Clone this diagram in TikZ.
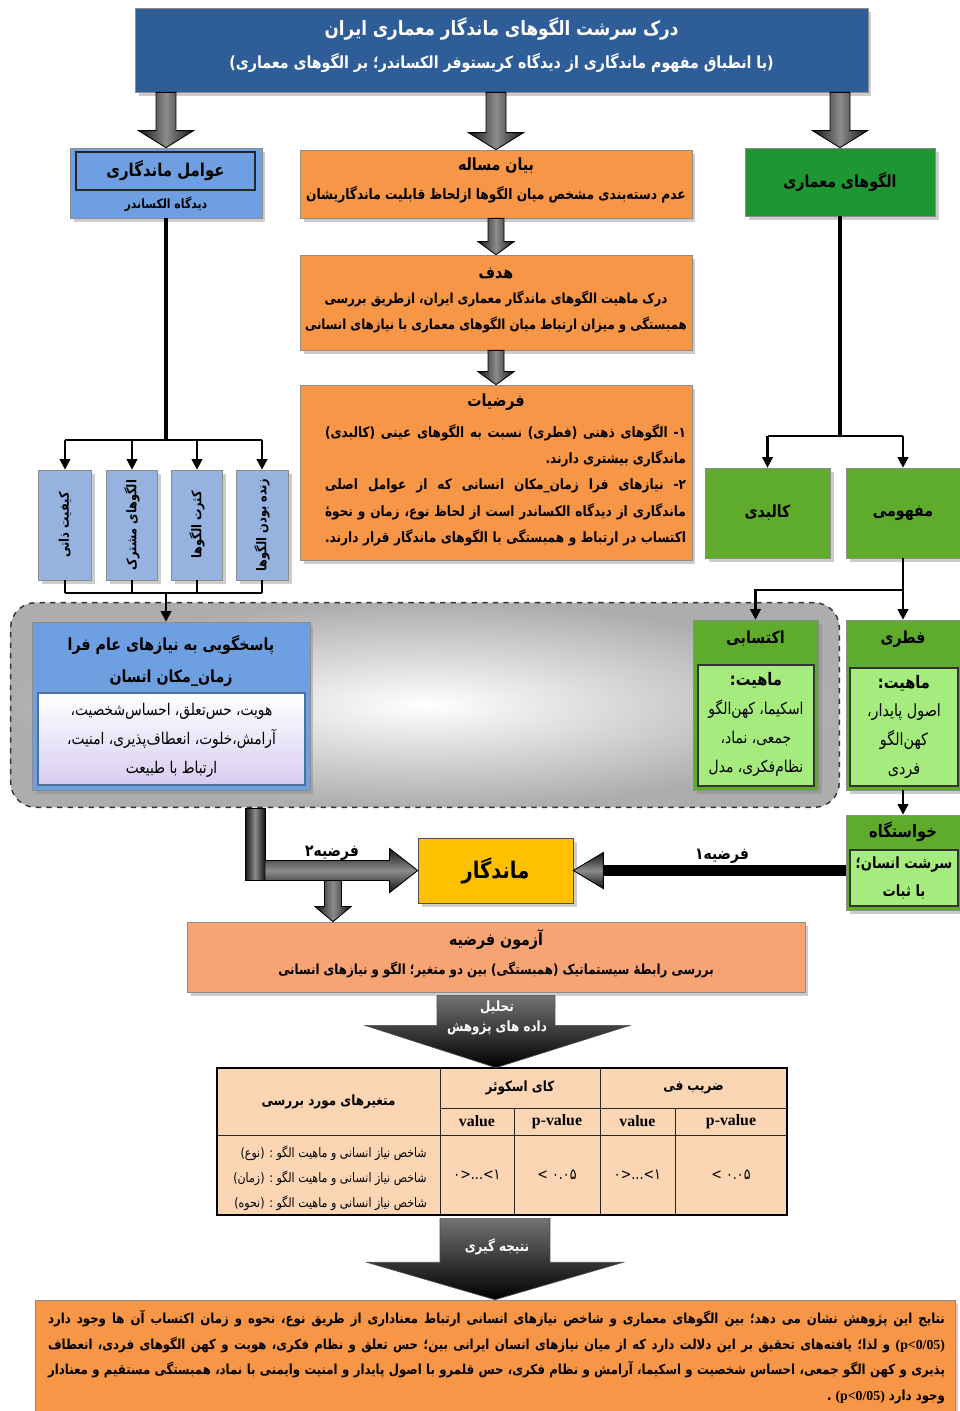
\documentclass[tikz,border=0pt]{standalone}
\usepackage{fontspec}
\setmainfont[Script=Arabic,FakeStretch=0.85]{DejaVu Sans}
\newfontfamily\latin{Liberation Serif}
\newfontfamily\plainfa[FakeStretch=0.85]{DejaVu Sans}
\TeXXeTstate=1
\usetikzlibrary{shapes,arrows.meta,positioning,fit,backgrounds,calc,shadows}

\definecolor{titleblue}{RGB}{47,93,152}
\definecolor{midblue}{RGB}{110,160,225}
\definecolor{paleblue}{RGB}{149,179,222}
\definecolor{boxorange}{RGB}{247,150,70}
\definecolor{salmon}{RGB}{246,164,115}
\definecolor{peach}{RGB}{252,213,180}
\definecolor{darkgreen}{RGB}{30,150,50}
\definecolor{leafgreen}{RGB}{95,172,45}
\definecolor{palegreen}{RGB}{165,235,125}
\definecolor{gold}{RGB}{255,192,0}
\definecolor{lavender}{RGB}{215,205,240}

% justified line
\newcommand{\jline}[2]{\makebox[#1][s]{#2}}
% block arrow pointing down, from #1 to #2
\newcommand{\vblk}[5]{%
  \path[blkv] let \p1=(#1), \p2=(#2) in
    (\x1-#3,\y1) -- (\x1-#3,\y2+#5) -- (\x1-#4,\y2+#5) -- (\x1,\y2)
    -- (\x1+#4,\y2+#5) -- (\x1+#3,\y2+#5) -- (\x1+#3,\y1) -- cycle;}

\begin{document}
\begin{tikzpicture}[x=0.02cm, y=-0.02cm,
    box/.style={rectangle, draw=black!45, inner sep=0pt, drop shadow={shadow xshift=2pt, shadow yshift=-2pt, opacity=0.4}},
    inbox/.style={rectangle, draw=black!80, line width=1pt, inner sep=0pt},
    txt/.style={inner sep=0pt, align=center},
    bigtxt/.style={txt, font=\bfseries\fontsize{9.5}{14}\selectfont},
    bodytxt/.style={txt, font=\bfseries\fontsize{7.9}{15}\selectfont},
    vtxt/.style={txt, rotate=90, font=\bfseries\fontsize{7.6}{9}\selectfont},
    cell/.style={rectangle, draw=black!85, fill=peach, inner sep=0pt},
    numtxt/.style={font=\plainfa\fontsize{8.5}{10}\selectfont},
    trunk/.style={line width=2.2pt},
    arr/.style={-{Triangle[width=6pt,length=6pt]}, line width=1.2pt},
    blkv/.style={draw=black, line width=0.5pt, left color=black!92, right color=black!92, middle color=black!45},
    blkh/.style={draw=black, line width=0.5pt, top color=black!92, bottom color=black!92, middle color=black!45}
]
    \useasboundingbox (0,0) rectangle (960,1411);

    % Title
    \node[box, fill=titleblue, minimum width=14.66cm, minimum height=1.68cm] (title) at (501.5,50) {};
    \node[txt, text=white, font=\bfseries\fontsize{11.2}{16}\selectfont] (titleA) at (501.5,29) {\beginR درک سرشت الگوهای ماندگار معماری ایران\endR};
    \node[txt, text=white, font=\bfseries\fontsize{9.5}{14}\selectfont] (titleB) at (501.5,63) {\beginR (با انطباق مفهوم ماندگاری از دیدگاه کریستوفر الکساندر؛ بر الگوهای معماری)\endR};

    % Left column: factors
    \node[box, fill=midblue, minimum width=3.84cm, minimum height=1.4cm] (amel) at (166,183) {};
    \node[inbox, draw=black!85, fill=midblue, minimum width=3.58cm, minimum height=0.76cm] (amelT) at (165.5,171) {};
    \node[bigtxt, font=\bfseries\fontsize{10}{14}\selectfont] (amelA) at (165.5,171) {\beginR عوامل ماندگاری\endR};
    \node[txt, font=\bfseries\fontsize{7.3}{9}\selectfont] (amelB) at (166,204) {\beginR دیدگاه الکساندر\endR};

    \node[box, fill=paleblue, minimum width=1.06cm, minimum height=2.2cm] (v1) at (65,525) {};
    \node[box, fill=paleblue, minimum width=1.02cm, minimum height=2.2cm] (v2) at (132,525) {};
    \node[box, fill=paleblue, minimum width=1.02cm, minimum height=2.2cm] (v3) at (197,525) {};
    \node[box, fill=paleblue, minimum width=1.04cm, minimum height=2.2cm] (v4) at (262,525) {};
    \node[vtxt] (v1t) at (v1) {\beginR کیفیت ذاتی\endR};
    \node[vtxt] (v2t) at (v2) {\beginR الگوهای مشترک\endR};
    \node[vtxt] (v3t) at (v3) {\beginR کثرت الگوها\endR};
    \node[vtxt] (v4t) at (v4) {\beginR زنده بودن الگوها\endR};

    % Middle column
    \node[box, fill=boxorange, minimum width=7.84cm, minimum height=1.36cm] (bayan) at (496,184) {};
    \node[bigtxt] (bayanA) at (496,166) {\beginR بیان مساله\endR};
    \node[bodytxt, font=\bfseries\fontsize{8.2}{15}\selectfont] (bayanB) at (496,195) {\beginR عدم دسته‌بندی مشخص میان الگوها ازلحاظ قابلیت ماندگاریشان\endR};

    \node[box, fill=boxorange, minimum width=7.84cm, minimum height=1.9cm] (hadaf) at (496,302.5) {};
    \node[bigtxt] (hadafA) at (496,274) {\beginR هدف\endR};
    \node[bodytxt] (hadafB) at (496,312) {\beginR درک ماهیت الگوهای ماندگار معماری ایران، ازطریق بررسی\endR\\\beginR همبستگی و میزان ارتباط میان الگوهای معماری با نیازهای انسانی\endR};

    \node[box, fill=boxorange, minimum width=7.84cm, minimum height=3.5cm] (farz) at (496,472.5) {};
    \node[bigtxt] (farzA) at (496,402) {\beginR فرضیات\endR};
    \node[bodytxt, align=right, font=\bfseries\fontsize{8.1}{15}\selectfont] (farzB) at (505.5,485) {\jline{7.22cm}{\beginR ۱- الگوهای ذهنی (فطری) نسبت به الگوهای عینی (کالبدی)\endR}\\\beginR ماندگاری بیشتری دارند.\endR\\\jline{7.22cm}{\beginR ۲- نیازهای فرا زمان\_مکان انسانی که از عوامل اصلی\endR}\\\jline{7.22cm}{\beginR ماندگاری از دیدگاه الکساندر است از لحاظ نوع، زمان و نحوهٔ\endR}\\\jline{7.22cm}{\beginR اکتساب در ارتباط و همبستگی با الگوهای ماندگار قرار دارند.\endR}};

    % Right column: patterns
    \node[box, fill=darkgreen, minimum width=3.8cm, minimum height=1.36cm] (olgu) at (840,182) {};
    \node[bigtxt] (olguA) at (olgu) {\beginR الگوهای معماری\endR};
    \node[box, fill=leafgreen, minimum width=2.5cm, minimum height=1.8cm] (kalbadi) at (767.5,513) {};
    \node[bigtxt] (kalbadiA) at (kalbadi) {\beginR کالبدی\endR};
    \node[box, fill=leafgreen, minimum width=2.28cm, minimum height=1.8cm] (mafhumi) at (903,513) {};
    \node[bigtxt] (mafhumiA) at (mafhumi) {\beginR مفهومی\endR};

    % Group frame
    \node[box, fill=midblue, minimum width=5.56cm, minimum height=3.36cm] (pasokh) at (171,706) {};
    \node[bigtxt, font=\bfseries\fontsize{9.5}{18}\selectfont] (pasokhA) at (171,661) {\beginR پاسخگویی به نیازهای عام فرا\endR\\\beginR زمان\_مکان انسان\endR};
    \node[inbox, draw=midblue!70!black, line width=0.6pt, top color=white, bottom color=lavender, minimum width=5.34cm, minimum height=1.84cm] (pasokhI) at (171.5,739) {};
    \node[txt, font=\fontsize{9.2}{16.5}\selectfont] (pasokhB) at (171.5,740) {\beginR هویت، حس‌تعلق، احساس‌شخصیت،\endR\\\beginR آرامش،خلوت، انعطاف‌پذیری، امنیت،\endR\\\beginR ارتباط با طبیعت\endR};

    \node[box, fill=leafgreen, minimum width=2.5cm, minimum height=3.4cm] (aktesabi) at (755.5,705) {};
    \node[bigtxt] (aktesabiA) at (755.5,639) {\beginR اکتسابی\endR};
    \node[inbox, fill=palegreen, minimum width=2.32cm, minimum height=2.42cm] (aktesabiI) at (756,725.5) {};
    \node[txt, font=\fontsize{9.3}{16.5}\selectfont] (aktesabiB) at (756,724) {{\bfseries\fontsize{9.8}{16.5}\selectfont\beginR ماهیت:\endR}\\\beginR اسکیما، کهن‌الگو\endR\\\beginR جمعی، نماد،\endR\\\beginR نظام‌فکری، مدل\endR};

    \node[box, fill=leafgreen, minimum width=2.28cm, minimum height=3.4cm] (fetri) at (903,705) {};
    \node[bigtxt] (fetriA) at (903,639) {\beginR فطری\endR};
    \node[inbox, fill=palegreen, minimum width=2.16cm, minimum height=2.36cm] (fetriI) at (904,727) {};
    \node[txt, font=\fontsize{9.6}{16.5}\selectfont] (fetriB) at (904,727) {{\bfseries\fontsize{9.8}{16.5}\selectfont\beginR ماهیت:\endR}\\\beginR اصول پایدار،\endR\\\beginR کهن‌الگو\endR\\\beginR فردی\endR};

    \node[box, fill=leafgreen, minimum width=2.28cm, minimum height=1.9cm] (khast) at (903,862.5) {};
    \node[bigtxt, font=\bfseries\fontsize{9.8}{14}\selectfont] (khastA) at (903,832) {\beginR خواستگاه\endR};
    \node[inbox, fill=palegreen, minimum width=2.16cm, minimum height=1.12cm] (khastI) at (904,878) {};
    \node[txt, font=\bfseries\fontsize{8.8}{15.5}\selectfont] (khastB) at (khastI) {\beginR سرشت انسان؛\endR\\\beginR با ثبات\endR};

    \begin{scope}[on background layer]
        \fill[white] (0,0) rectangle (960,1411);
        \node[rectangle, fit=(pasokh)(aktesabi), inner xsep=0.42cm, inner ysep=0.34cm, rounded corners=0.5cm, draw=black!80, dashed, thick, inner color=white, outer color=black!32] (grp) {};
    \end{scope}

    % Result
    \node[box, draw=black!70, fill=gold, minimum width=3.1cm, minimum height=1.3cm] (mand) at (495.5,870.5) {};
    \node[txt, font=\bfseries\fontsize{13}{18}\selectfont] (mandA) at (mand) {\beginR ماندگار\endR};
    \node[txt, font=\bfseries\fontsize{9.3}{10}\selectfont] (h2) at (332,853) {\beginR فرضیه۲\endR};
    \node[txt, font=\bfseries\fontsize{9.3}{10}\selectfont] (h1) at (722,856) {\beginR فرضیه۱\endR};

    \node[box, fill=salmon, minimum width=12.36cm, minimum height=1.4cm] (azmun) at (496,957) {};
    \node[bigtxt] (azmunA) at (496,940) {\beginR آزمون فرضیه\endR};
    \node[bodytxt] (azmunB) at (496,970) {\beginR بررسی رابطهٔ سیستماتیک (همبستگی) بین دو متغیر؛ الگو و نیازهای انسانی\endR};

    % Table
    \node[cell, minimum width=4.46cm, minimum height=1.34cm] (tvar) at (328.5,1101.5) {};
    \node[txt, font=\bfseries\fontsize{8}{10}\selectfont] (tvarA) at (tvar) {\beginR متغیرهای مورد بررسی\endR};
    \node[cell, minimum width=3.2cm, minimum height=0.8cm] (tchi) at (520,1088) {};
    \node[txt, font=\bfseries\fontsize{8}{10}\selectfont] (tchiA) at (tchi) {\beginR کای اسکوئر\endR};
    \node[cell, minimum width=3.74cm, minimum height=0.8cm] (tphi) at (693.5,1088) {};
    \node[txt, font=\bfseries\fontsize{8}{10}\selectfont] (tphiA) at (tphi) {\beginR ضریب فی\endR};
    \node[cell, minimum width=1.48cm, minimum height=0.54cm, font=\latin\bfseries\fontsize{9}{10}\selectfont] (tv1) at (477,1121.5) {value};
    \node[cell, minimum width=1.72cm, minimum height=0.54cm, font=\latin\bfseries\fontsize{9}{10}\selectfont] (tp1) at (557,1121.5) {p-value};
    \node[cell, minimum width=1.5cm, minimum height=0.54cm, font=\latin\bfseries\fontsize{9}{10}\selectfont] (tv2) at (637.5,1121.5) {value};
    \node[cell, minimum width=2.24cm, minimum height=0.54cm, font=\latin\bfseries\fontsize{9}{10}\selectfont] (tp2) at (731,1121.5) {p-value};
    \node[cell, minimum width=4.46cm, minimum height=1.6cm] (trow) at (328.5,1175) {};
    \node[txt, align=right, font=\fontsize{7.4}{14.2}\selectfont] (trowA) at (330,1178) {\beginR شاخص نیاز انسانی و ماهیت الگو : (نوع)\endR\\\beginR شاخص نیاز انسانی و ماهیت الگو : (زمان)\endR\\\beginR شاخص نیاز انسانی و ماهیت الگو : (نحوه)\endR};
    \node[cell, minimum width=1.48cm, minimum height=1.6cm, numtxt] (td1) at (477,1175) {\beginR ۰>...<۱\endR};
    \node[cell, minimum width=1.72cm, minimum height=1.6cm, numtxt] (td2) at (557,1175) {\beginR ۰.۰۵ <\endR};
    \node[cell, minimum width=1.5cm, minimum height=1.6cm, numtxt] (td3) at (637.5,1175) {\beginR ۰>...<۱\endR};
    \node[cell, minimum width=2.24cm, minimum height=1.6cm, numtxt] (td4) at (731,1175) {\beginR ۰.۰۵ <\endR};
    \draw[line width=1pt] (tvar.north west) rectangle (td4.south east);

    % Conclusion
    \node[box, fill=boxorange, minimum width=18.4cm, minimum height=2.22cm] (natije) at (495,1355.5) {};
    \node[txt, align=right, font=\bfseries\fontsize{7.85}{14.6}\selectfont] (natijeA) at (496.5,1357) {\jline{17.94cm}{\beginR نتایج این پژوهش نشان می دهد؛ بین الگوهای معماری و شاخص نیازهای انسانی ارتباط معناداری از طریق نوع، نحوه و زمان اکتساب آن ها وجود دارد\endR}\\\jline{17.94cm}{\beginR\beginL{\latin(p<0/05)}\endL{} و لذا؛ یافته‌های تحقیق بر این دلالت دارد که از میان نیازهای انسان ایرانی بین؛ حس تعلق و نظام فکری، هویت و کهن الگوهای فردی، انعطاف\endR}\\\jline{17.94cm}{\beginR پذیری و کهن الگو جمعی، احساس شخصیت و اسکیما، آرامش و نظام فکری، حس قلمرو با اصول پایدار و امنیت وایمنی با نماد، همبستگی مستقیم و معنادار\endR}\\\beginR وجود دارد \beginL{\latin(p<0/05)}\endL{} .\endR};

    % Thin connectors
    \draw[trunk] (amel.south) -- (amel.south |- 0,440);
    \draw[line width=1.2pt] (v1.north |- 0,440) -- (v4.north |- 0,440);
    \foreach \v in {v1,v2,v3,v4} {
        \draw[arr] (\v.north |- 0,440) -- (\v.north);
        \draw[line width=1.2pt] (\v.south) -- (\v.south |- 0,593);
    }
    \draw[line width=1.2pt] (v1.south |- 0,593) -- (v4.south |- 0,593);
    \draw[arr] (amel.south |- 0,593) -- (amel.south |- pasokh.north);

    \draw[trunk] (olgu.south) -- (olgu.south |- 0,436);
    \draw[line width=1.2pt] (kalbadi.north |- 0,436) -- (mafhumi.north |- 0,436);
    \draw[arr] (kalbadi.north |- 0,436) -- (kalbadi.north);
    \draw[arr] (mafhumi.north |- 0,436) -- (mafhumi.north);
    \draw[arr] (mafhumi.south) -- (fetri.north);
    \draw[arr] (mafhumi.south |- 0,590) -| (aktesabi.north);
    \draw[arr] (fetri.south) -- (khast.north);

    % Block arrows
    \vblk{title.south -| amel.north}{amel.north}{0.2cm}{0.55cm}{0.34cm}
    \vblk{title.south -| bayan.north}{bayan.north}{0.2cm}{0.55cm}{0.34cm}
    \vblk{title.south -| olgu.north}{olgu.north}{0.2cm}{0.55cm}{0.34cm}
    \vblk{bayan.south}{hadaf.north}{0.16cm}{0.36cm}{0.26cm}
    \vblk{hadaf.south}{farz.north}{0.16cm}{0.36cm}{0.26cm}

    \coordinate (lx) at (255,0);
    \path[blkv] let \p1=(lx |- grp.south), \p2=(lx |- mand.west) in
        (\x1-0.2cm,\y1) -- (\x1-0.2cm,\y2-0.2cm) -- (\x1+0.2cm,\y2-0.2cm) -- (\x1+0.2cm,\y1) -- cycle;
    \path[blkh] let \p1=(lx |- mand.west), \p2=(mand.west) in
        (\x1+0.2cm,\y1+0.2cm) -- (\x2-0.56cm,\y1+0.2cm) -- (\x2-0.56cm,\y1+0.44cm) -- (\x2,\y2)
        -- (\x2-0.56cm,\y1-0.44cm) -- (\x2-0.56cm,\y1-0.2cm) -- (\x1+0.2cm,\y1-0.2cm) -- cycle;
    \coordinate (brx) at (333,880.5);
    \vblk{brx}{brx |- azmun.north}{0.17cm}{0.36cm}{0.3cm}
    \fill[black] let \p1=(khast.west |- mand.east), \p2=(mand.east) in
        (\x1,\y1+0.11cm) rectangle (\x2+0.6cm,\y1-0.11cm);
    \path[blkh] let \p1=(khast.west |- mand.east), \p2=(mand.east) in
        (\x2+0.6cm,\y1+0.36cm) -- (\x2,\y2) -- (\x2+0.6cm,\y1-0.36cm) -- cycle;

    % Chevrons
    \shade[top color=black!55, bottom color=black, draw=black!70] let \p1=(azmun.south), \p2=(tchi.north west) in
        (\x1-1.18cm,\y1-0.06cm) -- (\x1+1.18cm,\y1-0.06cm) -- (\x1+1.18cm,\y1-0.66cm) -- (\x1+2.68cm,\y1-0.66cm)
        -- (\x1,\y2) -- (\x1-2.62cm,\y1-0.66cm) -- (\x1-1.18cm,\y1-0.66cm) -- cycle;
    \node[txt, text=white, font=\bfseries\fontsize{8}{11}\selectfont] (tahlil) at (497,1018) {\beginR تحلیل\endR\\\beginR داده های پژوهش\endR};
    \shade[top color=black!55, bottom color=black, draw=black!70] let \p1=(natije.north |- td1.south), \p2=(natije.north) in
        (\x1-1.1cm,\y1-0.06cm) -- (\x1+1.1cm,\y1-0.06cm) -- (\x1+1.1cm,\y1-0.94cm) -- (\x1+2.56cm,\y1-0.94cm)
        -- (\x1,\y2) -- (\x1-2.56cm,\y1-0.94cm) -- (\x1-1.1cm,\y1-0.94cm) -- cycle;
    \node[txt, text=white, font=\bfseries\fontsize{8}{11}\selectfont] (natijeT) at (497,1247) {\beginR نتیجه گیری\endR};
\end{tikzpicture}
\end{document}
